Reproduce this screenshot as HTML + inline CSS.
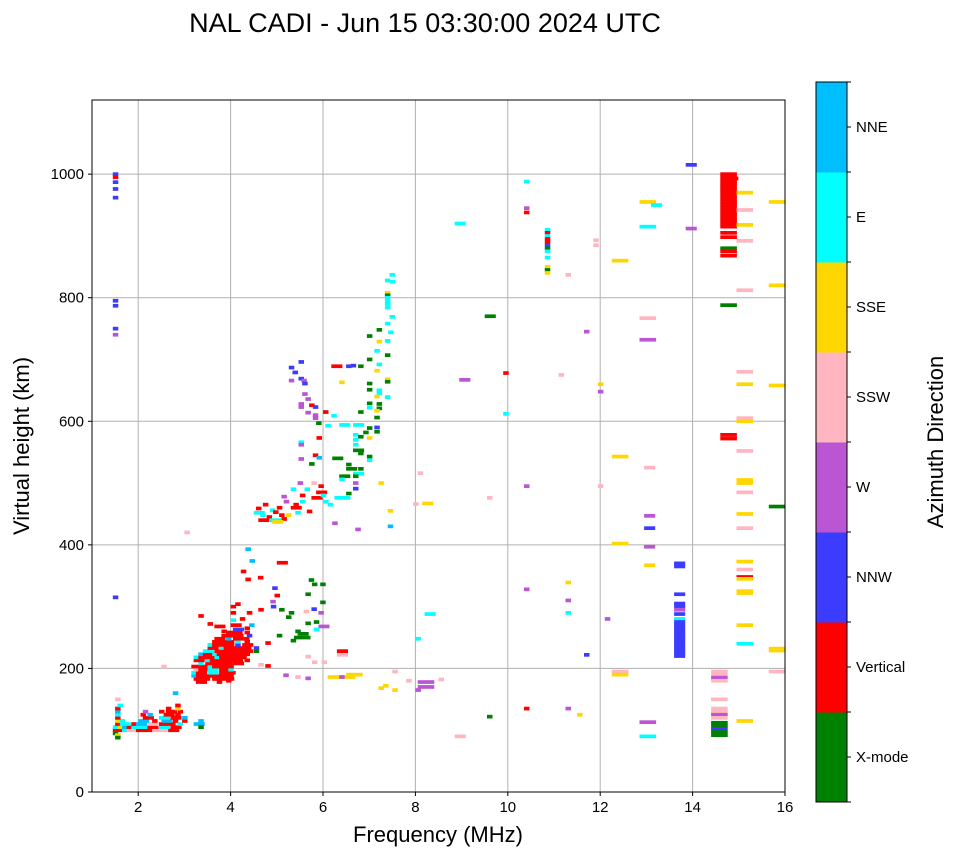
<!DOCTYPE html>
<html><head><meta charset="utf-8">
<style>
html,body{margin:0;padding:0;background:#fff;}
svg{display:block;font-family:"Liberation Sans","DejaVu Sans",sans-serif;}
</style></head>
<body>
<svg id="chart" width="958" height="857" viewBox="0 0 958 857" xmlns="http://www.w3.org/2000/svg">
<text x="425" y="32" font-size="27" text-anchor="middle" fill="#000">NAL CADI - Jun 15 03:30:00 2024 UTC</text>
<g id="grid"></g>
<g id="marks"></g>
<rect x="92" y="100" width="693" height="692" fill="none" stroke="#000" stroke-width="1"/>
<g id="ticks"></g>
<text x="438" y="842" font-size="22" text-anchor="middle">Frequency (MHz)</text>
<text transform="translate(29,446) rotate(-90)" font-size="22" text-anchor="middle">Virtual height (km)</text>
<g id="cbar"></g>
<text transform="translate(943,442) rotate(-90)" font-size="22" text-anchor="middle">Azimuth Direction</text>
</svg>
<script>
const dirNames = ["X-mode","Vertical","NNW","W","SSW","SSE","E","NNE"];
const dirColors = ["#008000","#ff0000","#3c3cff","#ba55d3","#ffb6c1","#ffd700","#00ffff","#00bfff"];
const xTicks = [2,4,6,8,10,12,14,16];
const yTicks = [0,200,400,600,800,1000];
// echo cells: [freq MHz (left edge), virtual height km, direction index, number of freq bins]
const echoes = [
[1.45,1000,2,1],[1.45,995,1,1],[1.45,987,2,1],[1.45,976,2,1],[1.45,962,2,1],[1.45,795,2,1],[1.45,787,2,1],[1.45,750,2,1],[1.45,740,3,1],[1.45,315,2,1],
[1.45,95,0,1],[1.5,92,5,1],[1.45,100,1,2],[1.65,100,6,1],[1.75,100,4,2],[1.95,100,1,3],[2.3,100,4,3],[2.65,100,1,2],
[1.45,105,6,1],[1.55,105,5,1],[1.65,105,7,1],[1.75,105,1,1],[1.85,105,6,3],[2.2,105,1,2],[2.45,105,6,2],[2.7,105,1,2],
[1.5,110,1,1],[1.6,110,6,2],[1.85,110,1,1],[1.95,110,7,2],[2.2,110,4,2],[2.45,110,1,3],[2.85,110,6,1],[3.2,110,7,2],
[1.5,115,5,1],[1.6,115,6,1],[2.0,115,7,2],[2.3,115,1,1],[2.5,115,7,2],[2.75,115,1,1],[2.95,115,1,1],[3.3,115,7,1],
[1.5,120,1,1],[2.1,120,1,2],[2.45,120,6,2],[2.7,120,1,2],[2.95,120,7,1],
[1.5,125,6,1],[2.05,125,1,1],[2.2,125,7,1],[2.55,125,1,2],[2.8,125,1,1],
[1.5,130,7,1],[2.1,130,3,1],[2.45,130,1,1],[2.6,130,1,2],[2.85,130,1,1],
[1.5,135,1,1],[2.6,135,1,1],[2.8,135,5,1],[1.55,140,6,1],[2.8,140,1,1],[1.5,150,4,1],[2.75,160,7,1],[3.3,105,0,1],[1.5,88,0,1],
[3.25,178,1,2],[3.7,178,1,1],[3.9,180,1,1],
[3.2,183,1,3],[3.6,183,1,4],
[3.15,188,7,1],[3.25,188,1,6],[3.95,188,1,1],
[3.15,193,6,1],[3.25,193,1,2],[3.5,193,6,2],[3.75,193,1,3],
[3.2,198,4,1],[3.3,198,1,2],[3.5,198,6,2],[3.75,198,1,2],[3.95,198,6,1],
[3.15,203,1,3],[3.5,203,6,1],[3.6,203,1,3],[3.95,203,1,1],
[3.3,208,6,1],[3.45,208,1,5],[4.05,208,1,2],[4.6,206,4,1],[4.75,204,1,1],
[3.2,213,1,2],[3.45,213,6,1],[3.55,213,1,6],[4.3,213,1,1],
[3.2,218,6,1],[3.3,218,1,3],[3.65,218,6,1],[3.75,218,1,5],
[3.3,223,7,1],[3.4,223,1,2],[3.6,223,6,1],[3.7,223,1,6],
[3.4,228,6,2],[3.65,228,1,7],[4.5,228,0,1],
[3.5,233,1,2],[3.75,233,6,1],[3.85,233,1,5],[4.5,233,2,1],
[3.5,238,6,1],[3.6,238,1,4],[4.1,238,2,1],[4.25,238,1,2],[4.75,241,1,1],
[3.6,243,1,4],[4.1,243,6,1],[4.3,243,1,1],
[3.65,248,1,2],[3.9,248,7,1],[4.05,248,1,3],
[3.8,253,1,4],[4.35,253,2,1],
[3.9,258,1,3],[4.3,258,1,1],[4.05,263,2,2],[4.3,265,1,1],
[4.0,270,1,2],[4.4,270,7,1],[3.5,272,1,1],[3.65,268,1,2],[4.0,278,6,1],[4.2,280,1,1],[3.3,285,1,1],[3.8,260,1,1],
[4.0,290,1,1],[4.35,290,1,1],[4.6,295,1,1],[4.87,300,2,1],[4.0,300,1,1],[4.86,308,3,1],[4.1,304,1,1],
[4.59,347,1,1],[4.22,357,1,1],[4.32,344,1,1],[5.0,371,1,2],[4.32,393,7,1],[4.41,374,7,1],[4.9,330,2,1],[4.95,318,1,1],
[5.69,343,0,1],[5.76,336,0,1],[5.94,336,0,1],[5.94,307,0,1],[5.62,320,0,1],[5.26,290,0,1],[5.2,283,0,1],[5.4,260,0,1],
[5.37,250,0,3],[5.45,256,0,2],[5.8,275,0,1],[5.62,273,0,1],[5.9,268,3,2],[5.8,263,6,1],[5.58,292,4,1],
[5.62,219,4,1],[5.76,210,4,1],[5.97,210,4,1],[5.14,189,3,1],[5.62,184,3,1],[5.4,186,4,1],[6.3,228,1,2],[6.3,222,4,2],
[5.9,290,3,1],[5.75,296,2,1],[5.05,295,0,1],[5.0,253,0,1],[5.3,245,0,1],
[6.1,186,5,5],[6.5,190,5,3],[6.35,186,3,1],[7.2,168,5,1],[7.5,165,5,1],[7.3,172,5,1],[7.8,180,4,1],
[8.05,170,3,3],[8.05,178,3,3],[8.0,165,3,1],[8.5,182,4,1],[7.5,195,4,1],
[4.55,459,1,1],[4.78,445,1,1],[4.64,448,6,1],[4.5,452,6,2],[5.0,460,1,1],[5.36,465,1,1],[5.65,454,1,1],[4.85,456,6,1],[4.92,453,1,1],
[4.6,440,1,2],[4.85,440,6,2],[5.1,442,1,1],[5.2,448,5,1],[5.4,452,6,1],[5.3,460,1,2],[5.5,470,6,1],[5.15,470,3,1],
[4.7,465,1,1],[4.9,437,5,2],[5.05,448,1,1],[5.5,480,1,1],[5.75,476,1,2],[5.85,485,1,2],[5.9,495,1,1],[5.95,480,6,1],
[5.6,490,6,1],[5.45,500,3,1],[5.75,500,4,1],[6.0,470,6,1],[6.25,476,6,1],[6.1,465,6,1],[5.1,478,3,1],[5.3,490,6,1],
[7.44,837,6,1],[7.34,828,6,1],[7.44,826,6,1],[7.34,808,5,1],[7.34,804,0,1],[7.34,800,6,1],[7.34,795,6,1],[7.34,790,6,1],[7.34,784,6,1],
[7.44,769,6,1],[7.34,758,6,1],[7.41,744,6,1],[7.34,730,6,1],[7.16,748,0,1],[6.95,738,0,1],[7.16,729,5,1],[7.11,714,6,1],
[6.95,700,0,1],[7.16,692,6,1],[7.11,682,5,1],[7.34,707,0,1],[6.18,689,1,2],[6.5,689,2,1],[6.76,689,0,1],
[6.35,663,5,1],[6.95,661,0,1],[6.95,651,0,1],[7.34,668,5,1],[7.34,664,0,1],[7.16,650,6,1],[7.16,645,6,1],[7.11,640,5,1],
[7.34,639,6,1],[6.95,629,0,1],[6.95,622,6,1],[7.16,628,0,1],[7.16,621,0,1],[7.11,617,5,1],[6.76,615,0,1],[7.11,606,0,1],
[6.18,609,6,1],[6.35,594,6,2],[6.65,594,6,2],[6.95,589,0,1],[6.95,573,5,1],[7.11,583,0,1],[7.11,590,2,1],[6.87,582,0,1],
[6.65,578,6,1],[6.65,570,6,1],[6.65,562,6,1],[6.76,575,0,1],[6.65,553,0,2],[6.76,548,0,1],[6.95,543,0,1],[6.95,537,6,1],
[6.5,523,0,2],[6.76,523,0,1],[6.65,515,6,2],[6.35,511,0,2],[6.65,511,0,1],[6.35,506,6,1],[6.65,500,3,1],[6.65,491,2,1],
[6.5,483,0,1],[6.35,476,6,2],[6.5,530,0,1],[6.2,540,0,2],[7.2,500,5,1],[7.4,455,5,1],[7.4,430,7,1],[6.7,425,3,1],[6.2,435,3,1],
[5.47,696,2,1],[5.26,687,2,1],[5.34,679,2,1],[5.26,666,3,1],[5.47,669,2,1],[5.53,666,3,1],[5.55,661,2,1],[5.55,644,3,1],
[5.62,636,3,1],[5.47,623,3,1],[5.47,628,3,1],[5.7,626,1,1],[5.78,623,2,1],[6.0,615,1,1],[5.62,614,3,1],[5.78,610,3,1],
[5.78,605,3,1],[5.85,597,0,1],[5.47,566,6,1],[5.47,562,3,1],[5.86,573,1,1],[5.78,545,1,1],[5.86,541,7,1],[5.7,531,0,1],
[5.47,539,3,1],[6.05,593,6,1],[6.6,690,2,1],[3.0,420,4,1],[2.5,203,4,1],
[8.85,920,6,2],[8.15,467,5,2],[7.95,466,4,1],[8.05,516,4,1],[8.2,288,6,2],[8.0,248,6,1],[8.85,90,4,2],
[9.55,122,0,1],[9.55,476,4,1],[9.5,770,0,2],[8.95,667,3,2],[9.9,678,1,1],[9.9,612,6,1],
[10.35,988,6,1],[10.35,945,3,1],[10.35,938,1,1],[10.35,495,3,1],[10.35,328,3,1],[10.35,135,1,1],
[10.8,910,6,1],[10.8,905,1,1],[10.8,900,6,1],[10.8,895,1,1],[10.8,890,1,1],[10.8,885,2,1],[10.8,880,0,1],[10.8,875,6,1],[10.8,865,6,1],[10.8,850,5,1],[10.8,845,0,1],[10.8,840,5,1],
[11.25,837,4,1],[11.1,675,4,1],[11.25,339,5,1],[11.25,310,3,1],[11.25,290,6,1],[11.25,135,3,1],[11.5,125,5,1],
[11.65,745,3,1],[11.65,222,2,1],[11.85,893,4,1],[11.85,885,4,1],[11.95,660,5,1],[11.95,648,3,1],[11.95,495,4,1],[12.1,280,3,1],
[12.25,860,5,3],[12.25,543,5,3],[12.25,402,5,3],[12.25,195,4,3],[12.25,190,5,3],
[12.85,955,5,3],[12.85,915,6,3],[13.1,950,6,2],[12.85,767,4,3],[12.85,732,3,3],[12.95,525,4,2],[12.95,447,3,2],[12.95,427,2,2],
[12.95,397,3,2],[12.95,367,5,2],[12.85,113,3,3],[12.85,90,6,3],[13.85,1015,2,2],[13.85,912,3,2],
[13.6,370,2,2],[13.6,365,2,2],[13.6,320,2,2],[13.6,305,2,2],[13.6,300,2,2],[13.6,295,3,2],[13.6,288,2,2],[13.6,280,6,2],
[13.6,275,2,2],[13.6,270,2,2],[13.6,265,2,2],[13.6,260,2,2],[13.6,255,2,2],[13.6,250,2,2],[13.6,245,2,2],[13.6,240,2,2],
[13.6,235,2,2],[13.6,230,2,2],[13.6,225,2,2],[13.6,220,2,2],
[14.4,195,4,3],[14.4,190,4,3],[14.4,185,3,3],[14.4,180,4,3],[14.4,150,4,3],[14.4,135,4,3],[14.4,130,4,3],[14.4,125,3,3],
[14.4,120,4,3],[14.4,112,0,3],[14.4,107,0,3],[14.4,102,2,3],[14.4,97,0,3],[14.4,92,0,3],
[14.6,1000,1,3],[14.6,995,1,3],[14.75,993,1,2],[14.6,990,1,3],[14.6,985,1,3],[14.6,980,1,3],[14.6,975,1,3],[14.6,970,1,3],
[14.6,965,1,3],[14.6,960,1,3],[14.6,955,1,3],[14.6,950,1,3],[14.6,945,1,3],[14.6,940,1,3],[14.6,935,1,3],[14.6,930,1,3],
[14.6,925,1,3],[14.6,920,1,3],[14.6,915,1,3],[14.6,905,1,3],[14.6,898,1,3],[14.6,880,0,3],[14.6,875,1,3],[14.6,868,1,3],
[14.6,788,0,3],[14.6,578,1,3],[14.6,572,1,3],
[14.95,970,5,3],[14.95,942,4,3],[14.95,918,5,3],[14.95,892,4,3],[14.95,812,4,3],[14.95,680,4,3],[14.95,660,5,3],
[14.95,605,4,3],[14.95,600,5,3],[14.95,552,4,3],[14.95,505,5,3],[14.95,500,5,3],[14.95,485,4,3],[14.95,450,5,3],
[14.95,427,4,3],[14.95,373,5,3],[14.95,360,4,3],[14.95,348,1,3],[14.95,345,5,3],[14.95,325,5,3],[14.95,322,5,3],
[14.95,270,5,3],[14.95,240,6,3],[14.95,115,5,3],
[15.65,955,5,3],[15.65,820,5,3],[15.65,658,5,3],[15.65,462,0,3],[15.65,232,5,3],[15.65,229,5,3],[15.65,195,4,3]
];

const X0=92, X1=785, Y0=792, Y1=100, FMIN=1, FMAX=16, HMIN=0, HMAX=1120;
const xs = f => X0 + (f-FMIN)/(FMAX-FMIN)*(X1-X0);
const ys = h => Y0 - (h-HMIN)/(HMAX-HMIN)*(Y0-Y1);
const NS="http://www.w3.org/2000/svg";
function mk(tag, attrs, parent){ const e=document.createElementNS(NS,tag); for(const k in attrs) e.setAttribute(k,attrs[k]); parent.appendChild(e); return e; }

const grid=document.getElementById('grid'), ticks=document.getElementById('ticks');
xTicks.forEach(t=>{
  const x=xs(t);
  if(t<FMAX){ const g=mk('line',{x1:x,x2:x,y1:Y1,y2:Y0,stroke:'#b0b0b0','stroke-width':1},grid);
    
     }
  const tk=mk('line',{x1:x,x2:x,y1:Y0,y2:Y0+4,stroke:'#000'},ticks);
  
  
  const lb=mk('text',{x:x,y:Y0+20,'font-size':15,'text-anchor':'middle'},ticks);
  lb.textContent=t;
  
  
});
yTicks.forEach(t=>{
  const y=ys(t);
  if(t>HMIN){ const g=mk('line',{x1:X0,x2:X1,y1:y,y2:y,stroke:'#b0b0b0','stroke-width':1},grid);
    
     }
  const tk=mk('line',{x1:X0-4,x2:X0,y1:y,y2:y,stroke:'#000'},ticks);
  
  
  const lb=mk('text',{x:X0-8,y:y+5,'font-size':15,'text-anchor':'end'},ticks);
  lb.textContent=t;
  
  
});

const marks=document.getElementById('marks');
const BIN=0.12, HSTEP=6;
echoes.forEach(e=>{
  const [f,h,d,n]=e;
  const x=xs(f), w=xs(f+BIN*n)-x, y=ys(h+HSTEP/2), hh=ys(h-HSTEP/2)-y;
  const r=mk('rect',{x:x.toFixed(1),y:y.toFixed(1),width:w.toFixed(1),height:hh.toFixed(1),fill:dirColors[d]},marks);
  
  
});

const cbar=document.getElementById('cbar');
const CX=816, CW=31, CT=82, CB=802, seg=(CB-CT)/dirNames.length;
dirNames.forEach((nm,i)=>{
  const y=CB-(i+1)*seg;
  const r=mk('rect',{x:CX,y:y,width:CW,height:seg+0.5,fill:dirColors[i]},cbar);
  
  
  const tk=mk('line',{x1:CX+CW,x2:CX+CW+4,y1:y+seg/2,y2:y+seg/2,stroke:'#000'},cbar);
  
  
  const lb=mk('text',{x:CX+CW+9,y:y+seg/2+5,'font-size':15},cbar);
  lb.textContent=nm;
  
  
});
for(let i=0;i<=dirNames.length;i++){
  const y=CB-i*seg;
  const tk=mk('line',{x1:CX+CW,x2:CX+CW+4,y1:y,y2:y,stroke:'#000'},cbar);
  
  
}
const fr=mk('rect',{x:CX,y:CT,width:CW,height:CB-CT,fill:'none',stroke:'#000'},cbar);


</script>
</body></html>
